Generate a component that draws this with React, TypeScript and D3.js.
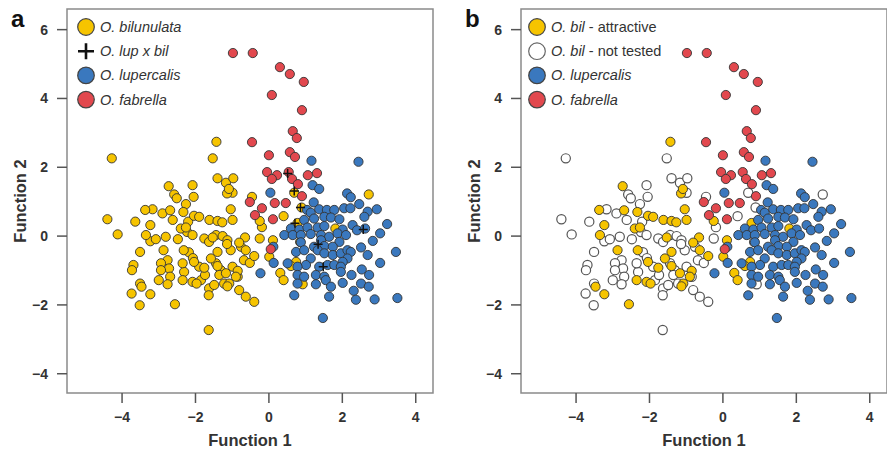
import React from "react";
import * as d3 from "d3";

// DFA scores (Function 1, Function 2)
const bilAttractive: [number, number][] = [
  [-1.43, 2.74], [-2.73, 1.45], [-1.14, 1.24], [-1.09, 1.37], [-3.37, 0.76], [-2.69, 0.75],
  [-2.33, 0.7], [-2.04, 0.59], [-1.9, 0.56], [-1.62, 0.47], [-1.4, 0.44], [-1.27, 0.4],
  [-1.04, 0.78], [-0.99, 0.47], [-3.23, 0.32], [-3.35, 0.03], [-2.4, 0.22], [-2.26, 0.25],
  [-0.25, 0.44], [0.78, 0.38], [1.81, 0.22], [-1.53, -0.04], [-0.65, -0.04], [-0.81, -0.19],
  [0.11, -0.12], [-2.87, -0.41], [-2.32, -0.41], [-1.4, -0.46], [-1.58, -0.65], [-0.63, -0.41],
  [-0.4, -0.58], [-2.04, -0.75], [0.01, -0.6], [0.74, -0.75], [0.6, -0.87], [-1.76, -0.92],
  [-1.4, -0.87], [-1.17, -1.08], [-0.85, -1.01], [-0.9, -1.18], [-1.08, -1.38], [-1.13, -1.46],
  [-2.35, -1.28], [-2.08, -1.33], [-1.97, -1.38], [0.31, -1.07], [0.4, -1.28], [-3.47, -1.47],
  [-3.23, -1.69], [-2.56, -1.98],
];

const bilNotTested: [number, number][] = [
  [-4.28, 2.26], [-1.53, 2.26], [-1.4, 1.68], [-1.17, 1.55], [-0.97, 1.68], [-2.08, 1.48],
  [-2.58, 1.21], [-2.51, 1.1], [-2.05, 1.14], [-0.99, 1.26], [-2.26, 0.93], [-3.17, 0.78],
  [-2.9, 0.66], [-2.62, 0.47], [-4.4, 0.49], [-3.64, 0.42], [-4.12, 0.05], [-3.23, -0.15],
  [-3.08, -0.09], [-2.81, -0.02], [-2.48, -0.09], [-2.23, 0.12], [-2.08, 0.03], [-1.76, -0.07],
  [-1.63, -0.17], [-1.44, 0.03], [-1.26, 0.0], [-1.13, -0.12], [-0.46, 1.14], [-0.19, 0.26],
  [-0.25, -0.07], [0.69, 1.26], [0.89, 0.83], [0.4, 0.58], [0.85, -0.17], [0.92, -1.4],
  [2.72, 1.21], [-3.51, -0.46], [-3.69, -0.84], [-3.73, -0.99], [-2.76, -0.7], [-2.94, -0.79],
  [-2.72, -0.94], [-2.94, -0.99], [-2.69, -1.18], [-2.76, -1.4], [-3.51, -1.38], [-3.74, -1.67],
  [-3.52, -2.01], [-2.31, -1.04], [-2.18, -0.47], [-2.07, -0.64], [-1.9, -0.89], [-1.85, -1.28],
  [-1.63, -1.52], [-1.64, -1.72], [-1.04, -0.41], [-0.76, -0.31], [-1.14, -0.23], [-0.68, -0.7],
  [-0.52, -0.78], [-2.35, -0.79], [-1.74, -1.13], [-1.44, -0.79], [-1.31, -0.99], [-0.99, -0.89],
  [-0.85, -1.18], [-1.35, -1.13], [-1.49, -1.42], [-1.22, -1.38], [-3.0, -1.28], [-0.81, -1.57],
  [-0.63, -1.76], [-0.4, -1.91], [-1.64, -2.73], [-2.2, 0.42],
];

const lupercalis: [number, number][] = [
  [1.16, 2.19], [2.44, 2.16], [0.04, 1.26], [1.19, 1.48], [1.37, 1.37], [2.13, 1.24],
  [2.23, 1.13], [1.22, 0.98], [2.46, 0.93], [2.94, 0.78], [1.04, 0.76], [1.14, 0.68],
  [1.37, 0.78], [1.58, 0.76], [1.78, 0.76], [2.05, 0.81], [2.22, 0.81], [2.69, 0.71],
  [2.6, 0.56], [0.96, 0.47], [1.23, 0.51], [1.51, 0.56], [1.69, 0.54], [1.92, 0.49],
  [3.22, 0.35], [0.6, 0.22], [0.83, 0.19], [1.05, 0.25], [1.33, 0.25], [1.51, 0.29],
  [2.01, 0.19], [2.28, 0.32], [2.4, 0.17], [2.62, 0.22], [3.03, 0.08], [0.42, 0.03],
  [0.65, 0.03], [0.87, 0.03], [1.14, 0.06], [1.42, 0.03], [1.64, -0.02], [1.87, 0.08],
  [2.1, 0.03], [1.42, -0.12], [1.92, -0.17], [0.87, -0.18], [2.83, -0.14], [1.23, -0.31],
  [1.51, -0.29], [1.74, -0.31], [2.51, -0.33], [0.12, -0.31], [0.74, -0.46], [0.96, -0.41],
  [1.33, -0.41], [1.51, -0.5], [1.74, -0.55], [1.96, -0.5], [2.14, -0.41], [2.23, -0.46],
  [2.14, -0.65], [2.69, -0.55], [3.46, -0.46], [1.14, -0.65], [0.51, -0.79], [0.13, -0.78],
  [1.01, -0.84], [0.78, -0.89], [1.37, -0.89], [1.6, -0.84], [1.78, -0.84], [2.01, -0.75],
  [3.03, -0.78], [1.96, -0.89], [-0.23, -1.08], [0.78, -1.13], [0.96, -1.18], [1.28, -1.13],
  [1.51, -1.18], [1.96, -1.04], [2.25, -1.13], [2.53, -0.97], [2.73, -1.13], [0.78, -1.38],
  [1.28, -1.4], [1.55, -1.28], [1.69, -1.47], [2.01, -1.36], [2.51, -1.38], [2.72, -1.47],
  [2.31, -1.59], [0.69, -1.72], [1.64, -1.76], [2.37, -1.85], [2.88, -1.84], [3.5, -1.8],
  [1.47, -2.38],
];

const fabrella: [number, number][] = [
  [-0.98, 5.32], [-0.44, 5.32], [0.3, 4.91], [0.57, 4.71], [0.95, 4.48], [0.08, 4.1],
  [0.9, 3.66], [0.65, 3.05], [0.76, 2.85], [-0.46, 2.73], [0.0, 2.35], [0.57, 2.44],
  [0.71, 2.3], [-0.05, 1.86], [0.22, 1.77], [0.08, 1.66], [0.54, 1.86], [0.63, 1.66],
  [0.79, 1.51], [1.06, 1.77], [1.31, 1.83], [0.9, 1.16], [-0.52, 0.99], [0.16, 0.96],
  [0.46, 0.96], [-0.19, 0.81], [-0.38, 0.61], [0.11, 0.49], [0.05, -0.38],
];

const hybrids: [number, number][] = [
  [0.51, 1.82], [0.69, 1.31], [0.86, 0.83], [0.71, 0.37], [1.34, -0.24], [1.48, -0.89], [2.57, 0.19],
];

const xTicks = [-4, -2, 0, 2, 4];
const yTicks = [-4, -2, 0, 2, 4, 6];

const YELLOW = "#F6C400";
const BLUE = "#3A78BE";
const RED = "#E2484E";
const FONT = "'Liberation Sans', Arial, sans-serif";
const fmt = (v: number) => (v < 0 ? "\u2212" + Math.abs(v) : String(v));

type LegendItem = { kind: "dot" | "cross"; fill?: string; label: React.ReactNode };

function Panel({ dx, letter, legend, legendX, children }: {
  dx: number; letter: string; legend: LegendItem[]; legendX: number;
  children: (x: d3.ScaleLinear<number, number>, y: d3.ScaleLinear<number, number>) => React.ReactNode;
}) {
  const x = d3.scaleLinear().domain([-5.5, 4.47]).range([67 + dx, 433 + dx]);
  const y = d3.scaleLinear().domain([-4.56, 6.6]).range([393, 9]);
  const [x0, x1] = x.range();
  const [y0, y1] = y.range();
  return (
    <g>
      <text x={11 + dx} y={27} fontSize={24} fontWeight="bold" fill="#111" fontFamily={FONT}>{letter}</text>
      {children(x, y)}
      <rect x={x0} y={y1} width={x1 - x0} height={y0 - y1} fill="none" stroke="#8a8a8a" strokeWidth={1.5} />
      {xTicks.map(t => (
        <g key={t}>
          <line x1={x(t)} x2={x(t)} y1={y0} y2={y0 + 10} stroke="#555" strokeWidth={1.5} />
          <text x={x(t)} y={422} textAnchor="middle" fontSize={14} fontWeight="bold" fill="#333" fontFamily={FONT}>{fmt(t)}</text>
        </g>
      ))}
      {yTicks.map(t => (
        <g key={t}>
          <line x1={x0 - 10} x2={x0} y1={y(t)} y2={y(t)} stroke="#555" strokeWidth={1.5} />
          <text x={x0 - 19} y={y(t) + 5} textAnchor="end" fontSize={14} fontWeight="bold" fill="#333" fontFamily={FONT}>{fmt(t)}</text>
        </g>
      ))}
      <text x={(x0 + x1) / 2} y={446} textAnchor="middle" fontSize={16.5} fontWeight="bold" fill="#333" fontFamily={FONT}>Function 1</text>
      <text transform={`translate(${x0 - 41},${(y0 + y1) / 2}) rotate(-90)`} textAnchor="middle" fontSize={16.5} fontWeight="bold" fill="#333" fontFamily={FONT}>Function 2</text>
      {legend.map((d, i) => {
        const cy = 27 + i * 24.2;
        return (
          <g key={i}>
            {d.kind === "dot"
              ? <circle cx={legendX} cy={cy} r={8.3} fill={d.fill} stroke={d.fill === "#fff" ? "#666" : "#444"} strokeWidth={1.2} />
              : <path d={`M${legendX - 8},${cy}H${legendX + 8}M${legendX},${cy - 8}V${cy + 8}`} stroke="#111" strokeWidth={2.6} />}
            <text x={legendX + 14} y={cy + 5} fontSize={14.5} fill="#333" fontFamily={FONT}>{d.label}</text>
          </g>
        );
      })}
    </g>
  );
}

const dots = (pts: [number, number][], x: any, y: any, fill: string, stroke = "#333") =>
  pts.map((p, i) => (
    <circle key={i} cx={x(p[0])} cy={y(p[1])} r={4.6} fill={fill} stroke={stroke} strokeWidth={fill === "#fff" ? 1.2 : 0.9} />
  ));

export default function App() {
  const bilAll = [...bilNotTested, ...bilAttractive];
  return (
    <div style={{ position: "absolute", left: 0, top: 0 }}>
      <svg width={887} height={451} style={{ display: "block", background: "#fff" }}>
        <Panel dx={0} letter="a" legendX={86} legend={[
          { kind: "dot", fill: YELLOW, label: <tspan fontStyle="italic">O. bilunulata</tspan> },
          { kind: "cross", label: <tspan fontStyle="italic">O. lup x bil</tspan> },
          { kind: "dot", fill: BLUE, label: <tspan fontStyle="italic">O. lupercalis</tspan> },
          { kind: "dot", fill: RED, label: <tspan fontStyle="italic">O. fabrella</tspan> },
        ]}>
          {(x, y) => (
            <g>
              {dots(bilAll, x, y, YELLOW)}
              {dots(lupercalis, x, y, BLUE)}
              {dots(fabrella, x, y, RED)}
              {hybrids.map((p, i) => (
                <path key={i} d={`M${x(p[0]) - 4.5},${y(p[1])}h9M${x(p[0])},${y(p[1]) - 4.5}v9`} stroke="#111" strokeWidth={1.5} />
              ))}
            </g>
          )}
        </Panel>
        <Panel dx={454} letter="b" legendX={537} legend={[
          { kind: "dot", fill: YELLOW, label: <><tspan fontStyle="italic">O. bil</tspan> - attractive</> },
          { kind: "dot", fill: "#fff", label: <><tspan fontStyle="italic">O. bil</tspan> - not tested</> },
          { kind: "dot", fill: BLUE, label: <tspan fontStyle="italic">O. lupercalis</tspan> },
          { kind: "dot", fill: RED, label: <tspan fontStyle="italic">O. fabrella</tspan> },
        ]}>
          {(x, y) => (
            <g>
              {dots(bilNotTested, x, y, "#fff", "#555")}
              {dots(bilAttractive, x, y, YELLOW)}
              {dots(lupercalis, x, y, BLUE)}
              {dots(fabrella, x, y, RED)}
            </g>
          )}
        </Panel>
      </svg>
    </div>
  );
}
